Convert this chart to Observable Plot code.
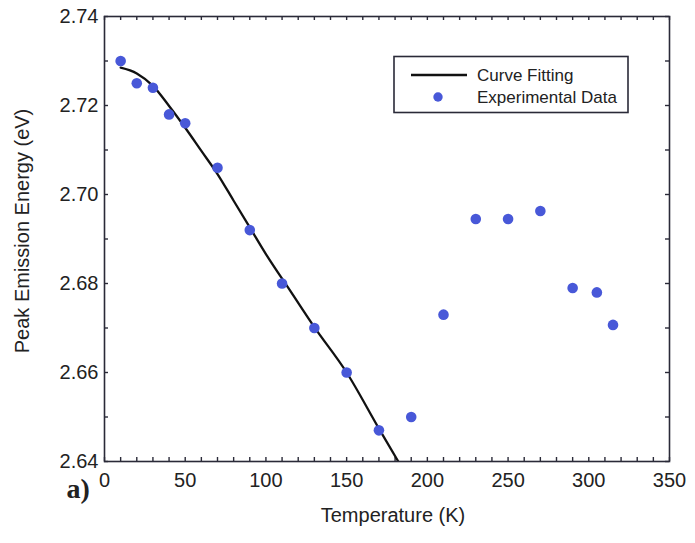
<!DOCTYPE html>
<html><head><meta charset="utf-8">
<script src="https://cdn.jsdelivr.net/npm/d3@7"></script>
<script src="https://cdn.jsdelivr.net/npm/@observablehq/plot@0.6"></script>
<style>
body{margin:0;background:#fff;}
#wrap{position:relative;width:695px;height:543px;}
#overlay{position:absolute;left:0;top:0;pointer-events:none;}
</style></head><body><div id="wrap"></div>
<script>
// Experimental data
const temperature = [10,20,30,40,50,70,90,110,130,150,170,190,210,230,250,270,290,305,315];
const energy = [2.730,2.725,2.724,2.718,2.716,2.706,2.692,2.680,2.670,2.660,2.647,2.650,2.673,2.6945,2.6945,2.6963,2.679,2.678,2.6707];
// Curve fitting
const fitTemperature = [10,20,30,40,50,60,70,80,90,100,115,130,150,170,182];
const fitEnergy = [2.7285,2.7272,2.7244,2.7199,2.715,2.7098,2.7046,2.6986,2.6926,2.6866,2.6784,2.6702,2.660,2.6474,2.640];
// Ticks
const xTicks = [0,50,100,150,200,250,300,350];
const yTicks = [2.64,2.66,2.68,2.70,2.72,2.74];
const xMinor = [0,10,20,30,40,50,60,70,80,90,100,110,120,130,140,150,160,170,180,190,200,210,220,230,240,250,260,270,280,290,300,310,320,330,340,350];
const yMinor = [2.64,2.65,2.66,2.67,2.68,2.69,2.70,2.71,2.72,2.73,2.74];
// Texts
const xTitle = "Temperature (K)";
const yTitle = "Peak Emission Energy (eV)";
const panelLabel = "a)";
const legendLabels = ["Curve Fitting", "Experimental Data"];

const exp = temperature.map((t, i) => ({t, e: energy[i]}));
const fit = fitTemperature.map((t, i) => ({t, e: fitEnergy[i]}));

const W = 695, H = 543, mL = 104, mR = 26, mT = 16, mB = 82;
const fw = W - mL - mR, fh = H - mT - mB;
const axisColor = "#2a2a38";
const dotColor = "#4858d8";
const font = "Arial, 'Liberation Sans', Helvetica, sans-serif";

const chart = Plot.plot({
  width: W, height: H,
  marginLeft: mL, marginRight: mR, marginTop: mT, marginBottom: mB,
  x: {domain: [0, 350]},
  y: {domain: [2.64, 2.74]},
  style: {fontFamily: font, background: "white", color: "#222"},
  marks: [
    Plot.ruleX(xMinor, {x: d => d, insetTop: fh - 4, stroke: axisColor, strokeWidth: 1.4}),
    Plot.ruleX(xMinor, {x: d => d, insetBottom: fh - 4, stroke: axisColor, strokeWidth: 1.4}),
    Plot.ruleY(yMinor, {y: d => d, insetRight: fw - 4, stroke: axisColor, strokeWidth: 1.4}),
    Plot.ruleY(yMinor, {y: d => d, insetLeft: fw - 4, stroke: axisColor, strokeWidth: 1.4}),
    Plot.axisX({anchor: "bottom", ticks: xTicks, tickSize: 0, tickPadding: 11, fontSize: 20, label: null, tickFormat: d => String(d)}),
    Plot.axisY({anchor: "left", ticks: yTicks, tickSize: 0, tickPadding: 6, fontSize: 20, label: null, tickFormat: d3.format(".2f")}),
    Plot.line(fit, {x: "t", y: "e", stroke: "#111", strokeWidth: 2.3, curve: "monotone-x", clip: true}),
    Plot.dot(exp, {x: "t", y: "e", r: 5.3, fill: dotColor, stroke: "none"}),
    Plot.frame({stroke: axisColor, strokeWidth: 1.6}),
    Plot.text([xTitle], {frameAnchor: "bottom", dx: 6, dy: 60, fontSize: 20, fill: "#222"}),
    Plot.text([panelLabel], {frameAnchor: "bottom-left", dx: -38, dy: 36, fontSize: 28, fontWeight: "bold", fontFamily: "'Liberation Serif', 'Times New Roman', serif", fill: "#222"})
  ]
});
const wrap = document.getElementById("wrap");
wrap.appendChild(chart);

// Overlay: y-axis title and legend
const ns = "http://www.w3.org/2000/svg";
const ov = document.createElementNS(ns, "svg");
ov.setAttribute("id", "overlay");
ov.setAttribute("width", W); ov.setAttribute("height", H);
ov.innerHTML = `
  <text transform="translate(22,231) rotate(-90)" text-anchor="middle" dy="0.35em" font-family="${font}" font-size="20" fill="#222">${yTitle}</text>
  <rect x="394" y="56.5" width="234" height="56" fill="white" stroke="${axisColor}" stroke-width="1.6"/>
  <line x1="411" x2="467" y1="75" y2="75" stroke="#111" stroke-width="2.3"/>
  <circle cx="438" cy="97" r="4.7" fill="${dotColor}"/>
  <text x="477" y="75" dy="0.35em" font-family="${font}" font-size="17" fill="#222">${legendLabels[0]}</text>
  <text x="477" y="97" dy="0.35em" font-family="${font}" font-size="17" fill="#222">${legendLabels[1]}</text>`;
wrap.appendChild(ov);
</script></body></html>
